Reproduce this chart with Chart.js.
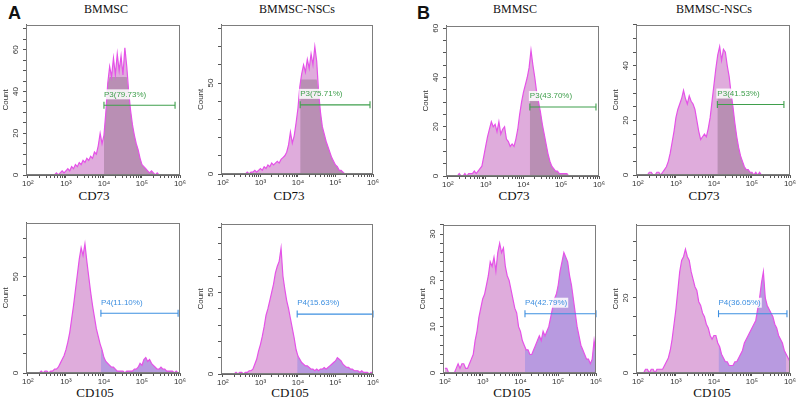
<!DOCTYPE html>
<html><head><meta charset="utf-8">
<script src="https://cdn.jsdelivr.net/npm/chart.js@4.4.1/dist/chart.umd.min.js"></script>
<style>
html,body{margin:0;padding:0;background:#fff;width:800px;height:402px;overflow:hidden;position:relative}
canvas{position:absolute}
.t{position:absolute;font-family:'Liberation Serif','Times New Roman',serif;font-size:12px;color:#111;transform:translateX(-50%);white-space:nowrap;line-height:1}
.ax{font-size:13px}
.pl{position:absolute;font-family:'Liberation Sans',Arial,sans-serif;font-weight:bold;font-size:18px;line-height:1;color:#111}
</style></head><body>
<div class="pl" style="left:8px;top:4px">A</div>
<div class="pl" style="left:417px;top:4px">B</div>
<div class="t" style="left:106px;top:3px">BMMSC</div>
<div class="t" style="left:297px;top:3px">BMMSC-NSCs</div>
<div class="t" style="left:515px;top:3px">BMMSC</div>
<div class="t" style="left:714px;top:3px">BMMSC-NSCs</div>
<div class="t ax" style="left:94px;top:189px">CD73</div>
<div class="t ax" style="left:289px;top:189px">CD73</div>
<div class="t ax" style="left:514px;top:189px">CD73</div>
<div class="t ax" style="left:704px;top:189px">CD73</div>
<div class="t ax" style="left:95px;top:386px">CD105</div>
<div class="t ax" style="left:290px;top:386px">CD105</div>
<div class="t ax" style="left:512px;top:386px">CD105</div>
<div class="t ax" style="left:712px;top:386px">CD105</div>
<script>
// ---- data: log10 fluorescence bin centres and event counts ----
const logBins = [2.00,2.05,2.10,2.15,2.20,2.25,2.30,2.35,2.40,2.45,2.50,2.55,2.60,2.65,2.70,2.75,2.80,2.85,2.90,2.95,3.00,3.05,3.10,3.15,3.20,3.25,3.30,3.35,3.40,3.45,3.50,3.55,3.60,3.65,3.70,3.75,3.80,3.85,3.90,3.95,4.00,4.05,4.10,4.15,4.20,4.25,4.30,4.35,4.40,4.45,4.50,4.55,4.60,4.65,4.70,4.75,4.80,4.85,4.90,4.95,5.00,5.05,5.10,5.15,5.20,5.25,5.30,5.35,5.40,5.45,5.50,5.55,5.60,5.65,5.70,5.75,5.80,5.85,5.90,5.95,6.00];

const cd73_A_BMMSC = [0,0,0,0,0,0,0,0,0,0, 0,0,0,0,0,1,0,1,2,1, 2,3,2,4,3,5,4,6,5,7, 6,8,7,9,8,11,10,14,20,15, 19,30,44,52,47,56,48,58,50,57, 48,61,52,40,31,24,19,15,12,8, 5,4,3,2,1,2,1,0,1,0, 0,0,0,0,0,0,0,0,0,0, 0];
const cd73_A_NSC   = [0,0,0,0,0,0,0,0,0,0, 0,0,0,1,0,1,1,2,1,2, 3,2,4,3,5,4,6,5,6,7, 6,8,9,10,12,16,23,17,21,28, 36,48,55,60,56,63,58,66,60,70, 62,45,34,26,22,18,15,12,9,7, 5,4,2,2,1,0,0,0,0,0, 0,0,0,0,0,0,0,0,0,0, 0];
const cd73_B_BMMSC = [0,0,0,0,0,0,1,0,0,1, 0,1,1,1,2,1,2,3,4,8, 12,16,19,22,20,21,18,22,17,19, 20,15,14,12,13,12,15,19,25,30, 34,37,40,44,51,45,40,34,30,26, 21,17,13,9,6,4,3,2,2,1, 1,1,1,1,0,0,0,0,0,0, 0,0,0,0,0,0,0,0,0,0, 0];
const cd73_B_NSC   = [0,0,0,0,0,0,1,1,0,0, 1,1,0,1,2,3,5,8,12,16, 21,24,26,28,31,28,26,29,27,26, 24,20,16,13,14,15,14,17,21,27, 33,39,44,47,42,46,45,40,36,30, 25,19,14,10,7,5,3,2,2,1, 1,0,1,0,1,0,0,0,0,0, 0,0,0,0,0,0,0,0,0,0, 0];
const cd105_A_BMMSC = [0,0,0,0,0,0,0,1,0,1, 1,0,1,1,2,2,3,5,7,9, 12,16,21,28,35,43,51,59,65,61, 67,58,50,42,35,29,23,19,15,12, 8,6,5,4,3,3,2,1,1,1, 1,0,1,1,1,1,2,2,3,5, 4,7,8,6,7,5,4,3,2,2, 3,2,2,1,1,1,1,0,1,0, 0];
const cd105_A_NSC   = [0,0,0,0,0,0,0,1,0,1, 1,0,1,1,2,2,3,6,9,14, 18,23,29,36,40,45,50,55,62,66, 69,77,60,52,45,40,34,28,22,15, 11,9,7,6,5,5,4,3,3,2, 3,2,3,3,4,3,4,5,6,7, 8,10,9,8,6,5,4,4,3,3, 2,2,2,1,2,1,1,1,0,1, 0];
const cd105_B_BMMSC = [1,1,0,0,0,0,1,2,1,2, 2,1,1,2,3,4,7,9,12,14, 16,17,19,21,24,23,25,22,26,28, 26,27,23,21,20,18,16,14,13,10, 9,7,6,5,5,4,4,5,6,7, 8,7,9,8,9,10,12,14,16,17, 19,22,24,26,25,24,21,19,16,13, 10,8,6,5,4,3,3,2,3,7, 4];
const cd105_B_NSC   = [0,0,0,0,1,1,0,1,1,0, 1,1,1,1,2,3,4,6,9,13, 17,22,27,30,31,33,31,30,27,25, 23,22,19,18,16,15,13,12,10,9, 10,10,8,7,5,4,3,3,2,2, 2,3,3,4,5,6,8,9,10,11, 12,13,14,17,20,24,27,20,18,17, 16,15,13,12,10,9,8,6,5,4, 3];

// gates (log10 units / counts)
const gateLabels = ['P3(79.73%)','P3(75.71%)','P3(43.70%)','P3(41.53%)','P4(11.10%)','P4(15.63%)','P4(42.79%)','P4(36.05%)'];
const gateStart  = [4.00, 4.06, 4.17, 4.09, 3.92, 3.98, 4.12, 4.12];
const gateEnd    = [5.87, 5.92, 5.92, 5.84, 5.95, 6.00, 6.00, 5.92];
const gateLevel  = [33.4, 38, 28, 25.8, 31, 36.7, 12.8, 15.8];
const overlayCap = [47, 52, 31, 31, null, null, null, null];
// y axis ranges
const yMax   = [72, 82, 61, 55, 78, 92, 32, 39.5];
const yMajor = [20, 50, 20, 20, 50, 50, 10, 20];
const yMinor = [5, 10, 5, 5, 10, 10, 2, 5];

const series = [cd73_A_BMMSC, cd73_A_NSC, cd73_B_BMMSC, cd73_B_NSC, cd105_A_BMMSC, cd105_A_NSC, cd105_B_BMMSC, cd105_B_NSC];

// ---- layout (plot-area boxes in page pixels) ----
const boxes = [
  {l:26,r:180,t:23,b:175},{l:221,r:373,t:23,b:174},{l:446,r:599,t:24,b:176},{l:636,r:790,t:23,b:175},
  {l:26,r:180,t:221,b:373},{l:221,r:373,t:222,b:374},{l:443,r:596,t:223,b:373},{l:636,r:790,t:223,b:373}
];
const FONT = '"Liberation Sans", Arial, sans-serif';
const SUP = {2:'10²',3:'10³',4:'10⁴',5:'10⁵',6:'10⁶'};
const xTickVals = [];
for (let n = 2; n < 6; n++) for (let k = 1; k < 10; k++) xTickVals.push(n + Math.log10(k));
xTickVals.push(6);

const framePlugin = {
  id: 'frame',
  afterDatasetsDraw(chart) {
    const {ctx, chartArea: a, scales: {x, y}} = chart;
    const p = chart.options.plugins.frame;
    ctx.save();
    ctx.strokeStyle = '#7d7d7d'; ctx.lineWidth = 1;
    ctx.strokeRect(Math.round(a.left) + 0.5, Math.round(a.top) + 0.5, Math.round(a.right - a.left) - 1, Math.round(a.bottom - a.top) - 1);
    ctx.font = '8px ' + FONT;
    const tx = x.getPixelForValue(p.gs), ty = y.getPixelForValue(p.gy) - 11;
    const w = ctx.measureText(p.label).width;
    ctx.fillStyle = 'rgba(255,255,255,0.85)';
    ctx.fillRect(tx - 1, ty - 5, w + 2, 10);
    ctx.fillStyle = p.color; ctx.textBaseline = 'middle'; ctx.textAlign = 'left';
    ctx.fillText(p.label, tx, ty);
    ctx.restore();
  }
};

function makeChart(i) {
  const bx = boxes[i];
  const padT = 6, padR = 12, yW = 25, xH = 16;
  const W = bx.r - bx.l + yW + padR, H = bx.b - bx.t + padT + xH;
  const cv = document.createElement('canvas');
  cv.width = W; cv.height = H;
  cv.style.left = (bx.l - yW) + 'px'; cv.style.top = (bx.t - padT) + 'px';
  cv.style.width = W + 'px'; cv.style.height = H + 'px';
  document.body.appendChild(cv);

  const vals = series[i];
  const pts = logBins.map((b, j) => ({x: b, y: vals[j]}));
  const gs = gateStart[i], ge = gateEnd[i], cap = overlayCap[i];
  const gated = logBins.map((b, j) => ({x: b, y: cap == null ? vals[j] : Math.min(vals[j], cap)}))
                       .filter(p => p.x >= gs - 1e-9 && p.x <= ge + 1e-9);
  if (gated.length && gated[0].x > gs) gated.unshift({x: gs, y: gated[0].y});
  const top = i < 4;
  const gateColor = top ? '#3f9f4c' : '#3d8fe0';
  const overlayColor = top ? 'rgba(120,92,112,0.36)' : 'rgba(130,128,228,0.42)';
  const major = yMajor[i], minor = yMinor[i], ymax = yMax[i];

  new Chart(cv, {
    type: 'line',
    data: {
      datasets: [
        {data: [{x: gs, y: gateLevel[i]}, {x: ge, y: gateLevel[i]}], borderColor: gateColor, borderWidth: 1.1,
         pointStyle: 'line', pointRadius: 3.5, pointRotation: 90, pointBorderColor: gateColor, pointBorderWidth: 1.1,
         fill: false, clip: false, order: 0},
        {data: pts, borderColor: '#e552e8', borderWidth: 1.2, pointRadius: 0, fill: false, order: 1},
        {data: gated, borderWidth: 0, pointRadius: 0, backgroundColor: overlayColor, fill: 'origin', order: 2},
        {data: pts, borderWidth: 0, pointRadius: 0, backgroundColor: '#dfacdc', fill: 'origin', order: 3}
      ]
    },
    options: {
      responsive: false, animation: false, parsing: true,
      layout: {padding: {left: 0, top: padT, right: padR, bottom: 0}},
      plugins: {legend: {display: false}, tooltip: {enabled: false},
                frame: {gs: gs, gy: gateLevel[i], label: gateLabels[i], color: gateColor}},
      scales: {
        x: {type: 'linear', min: 1.95, max: 6,
            afterBuildTicks(s) { s.ticks = xTickVals.map(v => ({value: v})); },
            afterFit(s) { s.height = xH; },
            ticks: {autoSkip: false, maxRotation: 0, minRotation: 0, padding: 1, color: '#333',
                    font: {family: FONT, size: 8},
                    callback: (v) => (Math.abs(v - Math.round(v)) < 1e-9 ? SUP[Math.round(v)] : '')},
            grid: {drawOnChartArea: false, drawTicks: true, tickLength: 3, color: '#555'},
            border: {color: '#666'}},
        y: {type: 'linear', min: 0, max: ymax,
            afterBuildTicks(s) { const t = []; for (let v = 0; v <= ymax + 1e-9; v += minor) t.push({value: Math.round(v * 100) / 100}); s.ticks = t; },
            afterFit(s) { s.width = yW; },
            ticks: {autoSkip: false, minRotation: 90, maxRotation: 90, crossAlign: 'center', padding: 3, color: '#333',
                    font: {family: FONT, size: 8},
                    callback: (v) => (Math.abs(v / major - Math.round(v / major)) < 1e-6 ? String(v) : '')},
            grid: {drawOnChartArea: false, drawTicks: true, tickLength: 3, color: '#555'},
            border: {color: '#666'},
            title: {display: true, text: 'Count', color: '#333', font: {family: FONT, size: 8}, padding: 0}}
      }
    },
    plugins: [framePlugin]
  });
}
for (let i = 0; i < 8; i++) makeChart(i);
</script>
</body></html>
